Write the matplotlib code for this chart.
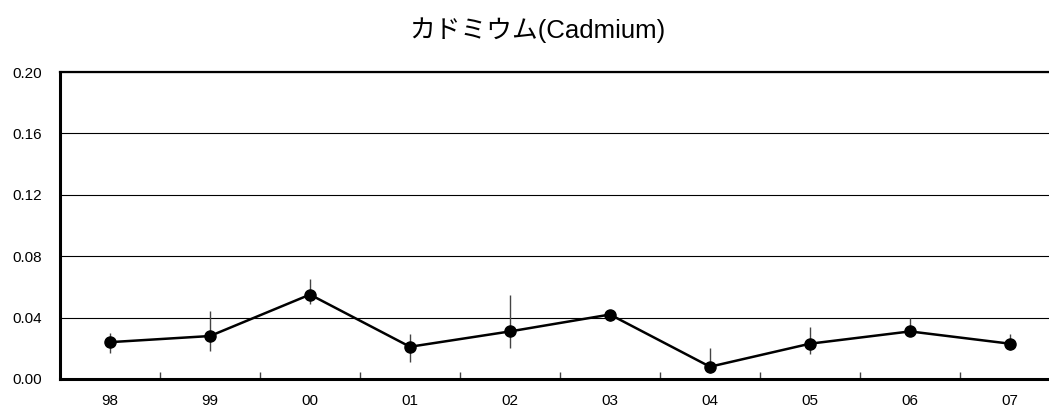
"""Cadmium yearly mean with min/max range."""

import matplotlib.pyplot as plt
import numpy as np

plt.rcParams["font.family"] = ["Liberation Sans", "Noto Sans CJK JP", "DejaVu Sans"]

years = ["98", "99", "00", "01", "02", "03", "04", "05", "06", "07"]
mean = [0.024, 0.028, 0.055, 0.021, 0.031, 0.042, 0.008, 0.023, 0.031, 0.023]
upper = [0.030, 0.044, 0.065, 0.029, 0.055, 0.045, 0.020, 0.034, 0.040, 0.029]
lower = [0.017, 0.018, 0.049, 0.011, 0.020, 0.038, 0.004, 0.016, 0.028, 0.019]

W, H = 1049, 412
fig = plt.figure(figsize=(W / 100, H / 100), dpi=100)
ax = fig.add_axes([60 / W, (H - 379) / H, (1060 - 60) / W, (379 - 72) / H])

x = np.arange(len(years))
mean = np.array(mean)
yerr = [mean - np.array(lower), np.array(upper) - mean]

ax.errorbar(x, mean, yerr=yerr, fmt="none", ecolor="#444444", elinewidth=1.0,
            capsize=0, zorder=2)
ax.plot(x, mean, color="black", lw=1.8, marker="o", markersize=8, zorder=3)

ax.set_xlim(-0.5, len(years) - 0.5)
ax.set_ylim(0, 0.20)
ax.set_yticks(np.arange(0, 0.201, 0.04))
ax.set_yticklabels([f"{v:.2f}" for v in np.arange(0, 0.201, 0.04)])
ax.yaxis.grid(True, color="black", lw=0.8)
ax.set_axisbelow(True)
ax.tick_params(axis="y", length=0, pad=13, labelsize=11)

ax.set_xticks(x)
ax.set_xticklabels(years)
ax.set_xticks(x[:-1] + 0.5, minor=True)
ax.tick_params(axis="x", which="major", length=0, pad=11, labelsize=11)
ax.tick_params(axis="x", which="minor", direction="in", length=5, width=1,
               color="#444444")

for side in ("left", "bottom"):
    ax.spines[side].set_linewidth(2.2)
ax.spines["top"].set_linewidth(1.6)
ax.spines["right"].set_visible(False)

fig.text(537 / W, 1 - 30 / H, "カドミウム(Cadmium)", ha="center", va="center",
         fontsize=18.5)

fig.savefig("out.png", dpi=100)
